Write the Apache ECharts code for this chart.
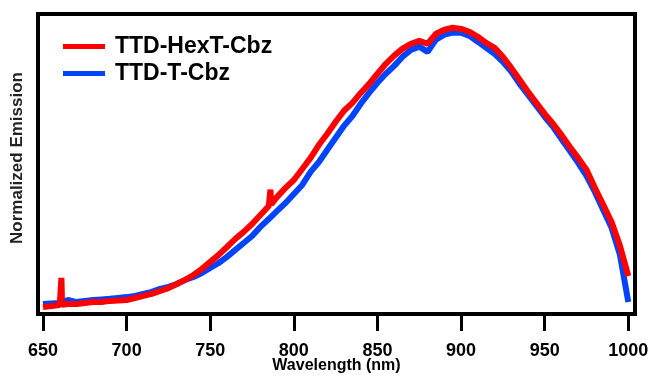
<!DOCTYPE html>
<html>
<head>
<meta charset="utf-8">
<script src="https://cdn.jsdelivr.net/npm/echarts@6/dist/echarts.min.js"></script>
<style>
  html, body { margin: 0; padding: 0; background: #ffffff; }
  #chart { width: 649px; height: 376px; }
</style>
</head>
<body>
<div id="chart"></div>
<script>
// wavelength grid (nm)
const wavelengths = [650, 655, 660, 665, 670, 675, 680, 685, 690, 695, 700, 705, 710, 715, 720, 725, 730, 735, 740, 745,
  750, 755, 760, 765, 770, 775, 780, 785, 790, 795, 800, 805, 810, 815, 820, 825, 830, 835, 840, 845,
  850, 855, 860, 865, 870, 875, 880, 885, 890, 895, 900, 905, 910, 915, 920, 925, 930, 935, 940, 945,
  950, 955, 960, 965, 970, 975, 980, 985, 990, 995, 1000]

const hexTValues = [0.024, 0.027, 0.031, 0.034, 0.034, 0.038, 0.041, 0.041, 0.045, 0.046, 0.048, 0.055, 0.062, 0.069, 0.079, 0.089, 0.103, 0.117, 0.134, 0.155,
  0.179, 0.203, 0.230, 0.258, 0.282, 0.309, 0.340, 0.371, 0.402, 0.433, 0.460, 0.498, 0.536, 0.581, 0.619, 0.660, 0.698, 0.725, 0.759, 0.790,
  0.825, 0.859, 0.887, 0.911, 0.928, 0.938, 0.928, 0.962, 0.976, 0.983, 0.979, 0.969, 0.952, 0.931, 0.914, 0.883, 0.845, 0.804, 0.763, 0.725,
  0.687, 0.653, 0.615, 0.574, 0.536, 0.495, 0.433, 0.375, 0.316, 0.234, 0.130]

// narrow spikes in the TTD-HexT-Cbz trace
const hexTSpikes = [[660.6, 0.031], [661, 0.124], [661.4, 0.032], [785.6, 0.373], [786, 0.427], [786.4, 0.376]]

const tCbzValues = [0.034, 0.036, 0.038, 0.048, 0.041, 0.045, 0.048, 0.050, 0.052, 0.055, 0.058, 0.062, 0.069, 0.076, 0.086, 0.093, 0.103, 0.117, 0.127, 0.141,
  0.158, 0.175, 0.196, 0.220, 0.244, 0.268, 0.299, 0.326, 0.354, 0.381, 0.412, 0.443, 0.488, 0.522, 0.564, 0.605, 0.646, 0.680, 0.722, 0.759,
  0.794, 0.825, 0.852, 0.883, 0.907, 0.918, 0.900, 0.942, 0.959, 0.966, 0.966, 0.955, 0.935, 0.914, 0.893, 0.866, 0.832, 0.790, 0.753, 0.715,
  0.677, 0.643, 0.601, 0.560, 0.519, 0.474, 0.419, 0.357, 0.296, 0.203, 0.041]

const xTicks = [650, 700, 750, 800, 850, 900, 950, 1000]

const font = 'Liberation Sans, Arial, sans-serif'

const hexTData = wavelengths.map((w, i) => [w, hexTValues[i]])
  .concat(hexTSpikes)
  .sort((a, b) => a[0] - b[0])
const tCbzData = wavelengths.map((w, i) => [w, tCbzValues[i]])

const myChart = echarts.init(document.getElementById('chart'))
const option = {
  animation: false,
  grid: {
    show: true,
    left: 38,
    right: 14,
    top: 14,
    bottom: 62,
    outerBoundsMode: 'none',
    borderColor: '#000000',
    borderWidth: 4
  },
  legend: {
    orient: 'vertical',
    left: 63,
    top: 35,
    padding: 0,
    itemGap: 4,
    icon: 'rect',
    itemWidth: 42,
    itemHeight: 5,
    textStyle: {
      fontFamily: font,
      fontWeight: 'bold',
      fontSize: 23,
      color: '#000000',
      padding: [0, 0, 0, 5]
    },
    data: ['TTD-HexT-Cbz', 'TTD-T-Cbz']
  },
  xAxis: {
    type: 'value',
    min: 647,
    max: 1004,
    name: 'Wavelength (nm)',
    nameLocation: 'middle',
    nameGap: 44,
    nameMoveOverlap: false,
    nameTextStyle: {
      fontFamily: font,
      fontWeight: 'bold',
      fontSize: 16,
      color: '#000000'
    },
    axisLine: { show: false },
    axisTick: {
      show: true,
      length: 17,
      customValues: xTicks,
      lineStyle: { color: '#000000', width: 3 }
    },
    axisLabel: {
      customValues: xTicks,
      margin: 28,
      fontFamily: font,
      fontWeight: 'bold',
      fontSize: 18,
      color: '#000000',
      formatter: (value) => String(value)
    },
    splitLine: { show: false }
  },
  yAxis: {
    type: 'value',
    min: 0,
    max: 1.03,
    name: 'Normalized Emission',
    nameLocation: 'middle',
    nameGap: 12,
    nameTextStyle: {
      fontFamily: font,
      fontWeight: 'bold',
      fontSize: 17,
      color: '#222222',
      padding: [0, 0, 0, 12]
    },
    axisLine: { show: false },
    axisTick: { show: false },
    axisLabel: { show: false },
    splitLine: { show: false }
  },
  series: [
    {
      name: 'TTD-T-Cbz',
      type: 'line',
      data: tCbzData,
      showSymbol: false,
      itemStyle: { color: '#0044ff' },
      lineStyle: { color: '#0044ff', width: 6 }
    },
    {
      name: 'TTD-HexT-Cbz',
      type: 'line',
      data: hexTData,
      showSymbol: false,
      itemStyle: { color: '#ff0000' },
      lineStyle: { color: '#ff0000', width: 6 }
    }
  ]
}
myChart.setOption(option)
</script>
</body>
</html>
